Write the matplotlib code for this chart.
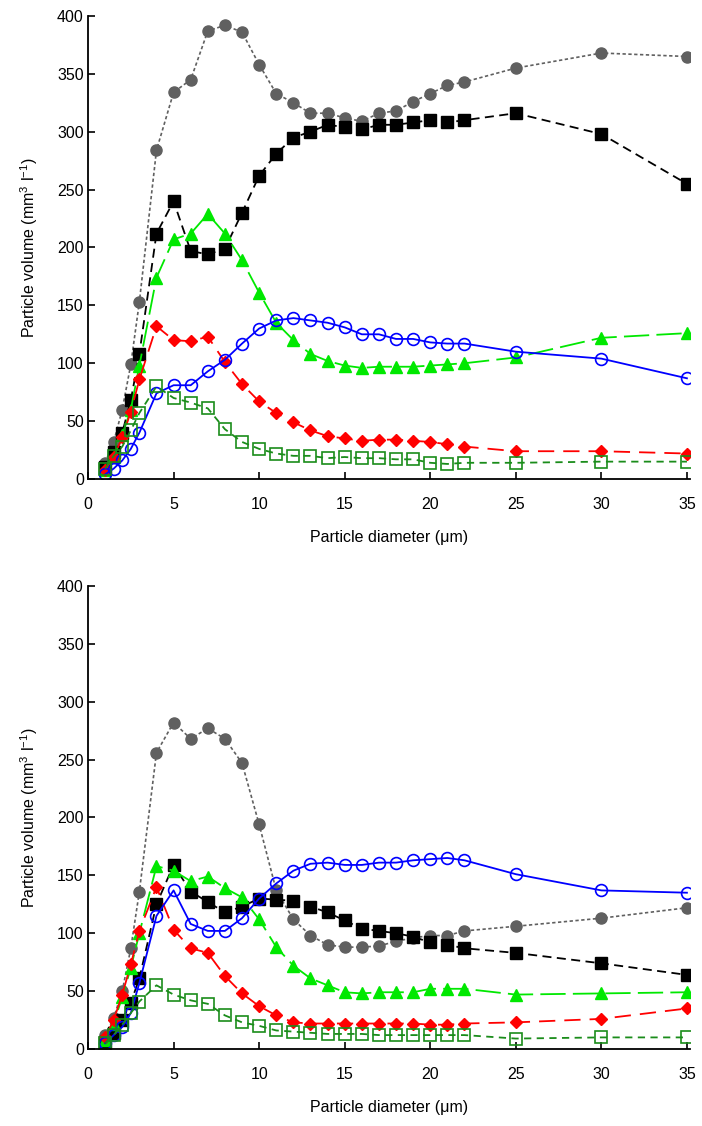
import matplotlib
matplotlib.use("Agg")
from matplotlib import pyplot as plt

plt.rcParams['font.family'] = ['Liberation Sans', 'DejaVu Sans']
plt.rcParams['mathtext.fontset'] = 'custom'
plt.rcParams['mathtext.rm'] = 'Liberation Sans'
plt.rcParams['axes.unicode_minus'] = False

# particle diameters (um)
diameter = [1, 1.5, 2, 2.5, 3, 4, 5, 6, 7, 8, 9, 10, 11, 12, 13, 14, 15, 16,
            17, 18, 19, 20, 21, 22, 25, 30, 35]

# ---------------- TOP PANEL ----------------
gray_top = [14, 32, 60, 99, 153, 284, 334, 345, 387, 392, 386, 358, 333, 325,
            316, 316, 312, 309, 316, 318, 326, 333, 340, 343, 355, 368, 365]
black_top = [10, 23, 40, 68, 108, 212, 240, 197, 194, 199, 230, 262, 281, 295,
             300, 306, 304, 302, 306, 306, 308, 310, 308, 310, 316, 298, 255]
green_top = [8, 19, 38, 60, 98, 174, 207, 212, 229, 212, 189, 161, 135, 120,
             108, 102, 98, 96, 97, 97, 97, 98, 99, 100, 105, 122, 126]
red_top = [8, 19, 36, 58, 86, 132, 120, 119, 123, 101, 82, 67, 57, 49,
           42, 37, 35, 33, 34, 34, 33, 32, 30, 28, 24, 24, 22]
blue_top = [4, 9, 16, 26, 40, 74, 81, 81, 93, 103, 117, 130, 137, 139,
            137, 135, 131, 125, 125, 121, 121, 118, 117, 117, 110, 104, 87]
dgreen_top = [9, 20, 28, 42, 57, 80, 70, 66, 61, 43, 32, 26, 22, 20,
              20, 18, 19, 18, 18, 17, 17, 14, 13, 14, 14, 15, 15]

# ---------------- BOTTOM PANEL ----------------
gray_bot = [12, 27, 50, 87, 136, 256, 282, 268, 277, 268, 247, 194, 137, 112,
            98, 90, 88, 88, 89, 93, 96, 98, 98, 102, 106, 113, 122]
black_bot = [6, 14, 25, 40, 61, 125, 159, 136, 127, 118, 123, 130, 129, 128,
             123, 118, 111, 104, 102, 100, 97, 92, 90, 87, 83, 74, 64]
green_bot = [8, 22, 45, 70, 100, 158, 154, 145, 149, 139, 131, 112, 88, 72,
             61, 55, 49, 48, 49, 49, 49, 52, 52, 52, 47, 48, 49]
red_bot = [10, 25, 47, 73, 102, 140, 103, 87, 83, 63, 48, 37, 29, 23,
           22, 22, 22, 22, 22, 22, 22, 21, 21, 22, 23, 26, 35]
blue_bot = [5, 12, 19, 31, 57, 115, 137, 108, 102, 102, 113, 130, 143, 154,
            160, 161, 159, 159, 161, 161, 163, 164, 165, 163, 151, 137, 135]
dgreen_bot = [5, 12, 21, 31, 41, 55, 47, 42, 39, 29, 23, 20, 16, 15,
              14, 13, 13, 13, 12, 12, 12, 12, 12, 12, 9, 10, 10]


def draw_panel(ax, gray, black, green, red, blue, dgreen):
    ax.plot(diameter, gray, color="#606060", linestyle=(0, (2, 1.5)), lw=1.2,
            marker="o", ms=8, mec="#606060", mfc="#606060")
    ax.plot(diameter, black, color="black", linestyle=(0, (5, 3)), lw=1.3,
            marker="s", ms=8, mfc="black", mec="black")
    ax.plot(diameter, green, color="#00e800", linestyle=(0, (14, 4)), lw=1.3,
            marker="^", ms=8, mfc="#00e800", mec="#00e800")
    ax.plot(diameter, red, color="#ff0000", linestyle=(0, (9, 5)), lw=1.3,
            marker="D", ms=6, mfc="#ff0000", mec="#ff0000")
    ax.plot(diameter, blue, color="#0000ff", linestyle="-", lw=1.3,
            marker="o", ms=8.5, mfc="none", mec="#0000ff", mew=1.2)
    ax.plot(diameter, dgreen, color="#1a8c1a", linestyle=(0, (4, 3)), lw=1.3,
            marker="s", ms=8, mfc="none", mec="#1a8c1a", mew=1.2)

    ax.set_xlim(0, 35.2)
    ax.set_ylim(0, 400)
    ax.set_xticks(range(0, 36, 5))
    ax.set_yticks(range(0, 401, 50))
    ax.spines['top'].set_visible(False)
    ax.spines['right'].set_visible(False)
    ax.spines['left'].set_linewidth(1.3)
    ax.spines['bottom'].set_linewidth(1.3)
    ax.tick_params(direction="in", length=5, width=1.2, labelsize=11.5)
    ax.tick_params(axis="x", pad=13)
    ax.tick_params(axis="y", pad=3)
    ax.set_xlabel("Particle diameter (μm)", fontsize=11.5, labelpad=13)
    ax.set_ylabel("Particle volume (mm$^{3}$ l$^{-1}$)", fontsize=11.5, labelpad=12)


fig = plt.figure(figsize=(7.02, 11.26), dpi=100)
ax1 = fig.add_axes([0.1254, 0.5746, 0.858, 0.4112])
ax2 = fig.add_axes([0.1254, 0.0684, 0.858, 0.4112])

draw_panel(ax1, gray_top, black_top, green_top, red_top, blue_top, dgreen_top)
draw_panel(ax2, gray_bot, black_bot, green_bot, red_bot, blue_bot, dgreen_bot)

fig.savefig("out.png", dpi=100)
